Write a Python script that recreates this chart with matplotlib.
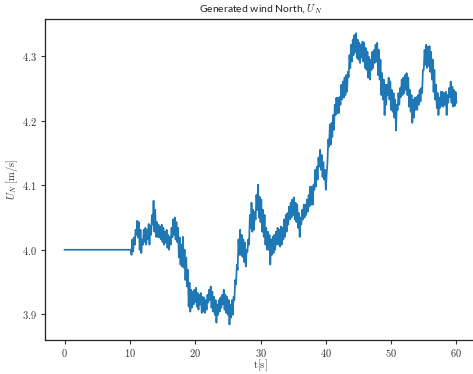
import numpy as np
import matplotlib
matplotlib.use("Agg")
import matplotlib.pyplot as plt
from matplotlib.ticker import FuncFormatter

plt.rcParams["mathtext.fontset"] = "cm"

# Wind speed, North component: constant 4.0 m/s until t = 10 s,
# then a turbulent trace. Each knot holds the upper and lower value of
# the fluctuation band (0.25 s spacing, from 10 s to 60 s).
t_hold = [0.0, 10.0]
u_hold = [4.0, 4.0]

u_high = [
    4.000, 4.016, 4.019, 4.031,
    4.045, 4.043, 4.031, 4.016,
    4.031, 4.034, 4.031, 4.040,
    4.037, 4.054, 4.076, 4.062,
    4.043, 4.039, 4.036, 4.039,
    4.034, 4.028, 4.031, 4.023,
    4.020, 4.034, 4.047, 4.050,
    4.043, 4.034, 4.019, 4.008,
    4.020, 4.000, 3.988, 3.969,
    3.949, 3.938, 3.935, 3.938,
    3.941, 3.933, 3.930, 3.933,
    3.927, 3.926, 3.922, 3.930,
    3.938, 3.943, 3.935, 3.927,
    3.922, 3.915, 3.922, 3.926,
    3.930, 3.938, 3.930, 3.927,
    3.922, 3.915, 3.922, 3.927,
    3.953, 3.977, 4.016, 4.031,
    4.023, 4.016, 4.011, 4.000,
    4.016, 4.054, 4.073, 4.062,
    4.059, 4.085, 4.101, 4.082,
    4.078, 4.062, 4.054, 4.034,
    4.028, 4.023, 4.016, 4.020,
    4.023, 4.028, 4.034, 4.031,
    4.036, 4.034, 4.047, 4.054,
    4.057, 4.067, 4.073, 4.078,
    4.081, 4.073, 4.070, 4.057,
    4.050, 4.062, 4.070, 4.070,
    4.078, 4.085, 4.098, 4.098,
    4.101, 4.124, 4.129, 4.143,
    4.155, 4.147, 4.136, 4.124,
    4.116, 4.171, 4.194, 4.197,
    4.209, 4.225, 4.236, 4.236,
    4.237, 4.256, 4.261, 4.267,
    4.271, 4.276, 4.302, 4.318,
    4.326, 4.333, 4.336, 4.326,
    4.321, 4.318, 4.323, 4.321,
    4.313, 4.307, 4.299, 4.295,
    4.307, 4.310, 4.318, 4.321,
    4.310, 4.295, 4.274, 4.264,
    4.256, 4.256, 4.267, 4.261,
    4.248, 4.243, 4.233, 4.225,
    4.243, 4.251, 4.264, 4.267,
    4.271, 4.274, 4.267, 4.248,
    4.240, 4.233, 4.236, 4.237,
    4.240, 4.248, 4.251, 4.279,
    4.310, 4.318, 4.315, 4.316,
    4.307, 4.295, 4.279, 4.256,
    4.243, 4.236, 4.245, 4.245,
    4.243, 4.245, 4.240, 4.251,
    4.261, 4.253, 4.248, 4.245,
    4.237,
]

u_low = [
    4.000, 3.992, 3.997, 4.008,
    4.023, 4.019, 4.000, 3.995,
    4.008, 4.012, 4.008, 4.016,
    4.008, 4.023, 4.039, 4.028,
    4.020, 4.020, 4.019, 4.016,
    4.012, 4.008, 4.011, 4.003,
    4.000, 4.008, 4.019, 4.023,
    4.016, 4.012, 3.988, 3.977,
    3.974, 3.972, 3.953, 3.943,
    3.912, 3.904, 3.910, 3.915,
    3.919, 3.912, 3.907, 3.915,
    3.902, 3.904, 3.902, 3.907,
    3.918, 3.922, 3.910, 3.904,
    3.899, 3.887, 3.899, 3.904,
    3.910, 3.915, 3.907, 3.902,
    3.899, 3.884, 3.895, 3.899,
    3.922, 3.946, 3.969, 3.992,
    3.992, 3.989, 3.981, 3.974,
    3.997, 4.008, 4.034, 4.028,
    4.031, 4.047, 4.062, 4.050,
    4.043, 4.028, 4.020, 4.008,
    4.000, 4.000, 3.977, 3.992,
    3.995, 4.000, 4.008, 4.008,
    4.005, 4.008, 4.016, 4.020,
    4.028, 4.039, 4.047, 4.050,
    4.054, 4.047, 4.043, 4.034,
    4.020, 4.039, 4.047, 4.050,
    4.054, 4.059, 4.067, 4.070,
    4.070, 4.093, 4.098, 4.109,
    4.129, 4.124, 4.113, 4.109,
    4.093, 4.135, 4.160, 4.163,
    4.175, 4.186, 4.209, 4.212,
    4.212, 4.225, 4.233, 4.236,
    4.240, 4.245, 4.268, 4.282,
    4.292, 4.302, 4.307, 4.298,
    4.295, 4.290, 4.298, 4.292,
    4.282, 4.279, 4.267, 4.264,
    4.279, 4.282, 4.290, 4.292,
    4.271, 4.264, 4.240, 4.233,
    4.209, 4.225, 4.240, 4.233,
    4.217, 4.214, 4.205, 4.185,
    4.217, 4.225, 4.237, 4.240,
    4.243, 4.248, 4.240, 4.222,
    4.214, 4.197, 4.205, 4.217,
    4.217, 4.225, 4.230, 4.243,
    4.279, 4.287, 4.282, 4.285,
    4.276, 4.264, 4.245, 4.233,
    4.220, 4.209, 4.220, 4.223,
    4.222, 4.225, 4.209, 4.228,
    4.237, 4.228, 4.222, 4.223,
    4.228,
]

dt = 0.25
t_start = 10.0

# Interleave band edges into one continuous trace
n = min(len(u_high), len(u_low))
t_knots = t_start + dt * np.arange(n)
t_trace = np.column_stack([t_knots, t_knots + dt / 2]).ravel()[:-1]
u_trace = np.column_stack([u_low[:n], u_high[:n]]).ravel()[:-1]

t_all = np.concatenate([t_hold, t_trace[1:]])
u_all = np.concatenate([u_hold, u_trace[1:]])

fig = plt.figure(figsize=(4.73, 3.74), dpi=100)
ax = fig.add_axes([45 / 473, 34 / 374, 431 / 473, 321 / 374])

ax.plot(t_all, u_all, color="#1f77b4", linewidth=1.25)

ax.set_xlim(-3, 63)
ax.set_ylim(3.860, 4.358)
ax.set_xticks([0, 10, 20, 30, 40, 50, 60])
ax.set_yticks([3.9, 4.0, 4.1, 4.2, 4.3])

tick_fmt_x = FuncFormatter(lambda v, p: r"$%d$" % v)
tick_fmt_y = FuncFormatter(lambda v, p: r"$%.1f$" % v)
ax.xaxis.set_major_formatter(tick_fmt_x)
ax.yaxis.set_major_formatter(tick_fmt_y)

ax.tick_params(axis="both", labelsize=7.5, colors="#333333", length=3, width=0.8,
               direction="out")
ax.tick_params(axis="x", pad=2)
ax.tick_params(axis="y", pad=3)
ax.tick_params(top=False, right=False)

for side in ["left", "bottom", "top", "right"]:
    ax.spines[side].set_color("#222222")
    ax.spines[side].set_linewidth(0.9)

ax.set_title(r"Generated wind North, $U_N$", fontsize=7.5, family="Lato",
             color="#222222", pad=5)
ax.set_xlabel(r"$\mathrm{t[s]}$", fontsize=7.5, color="#333333", labelpad=-1)
ax.set_ylabel(r"$U_N\ \mathrm{[m/s]}$", fontsize=7.5, color="#333333", labelpad=1)

fig.savefig("out.png", dpi=100)
